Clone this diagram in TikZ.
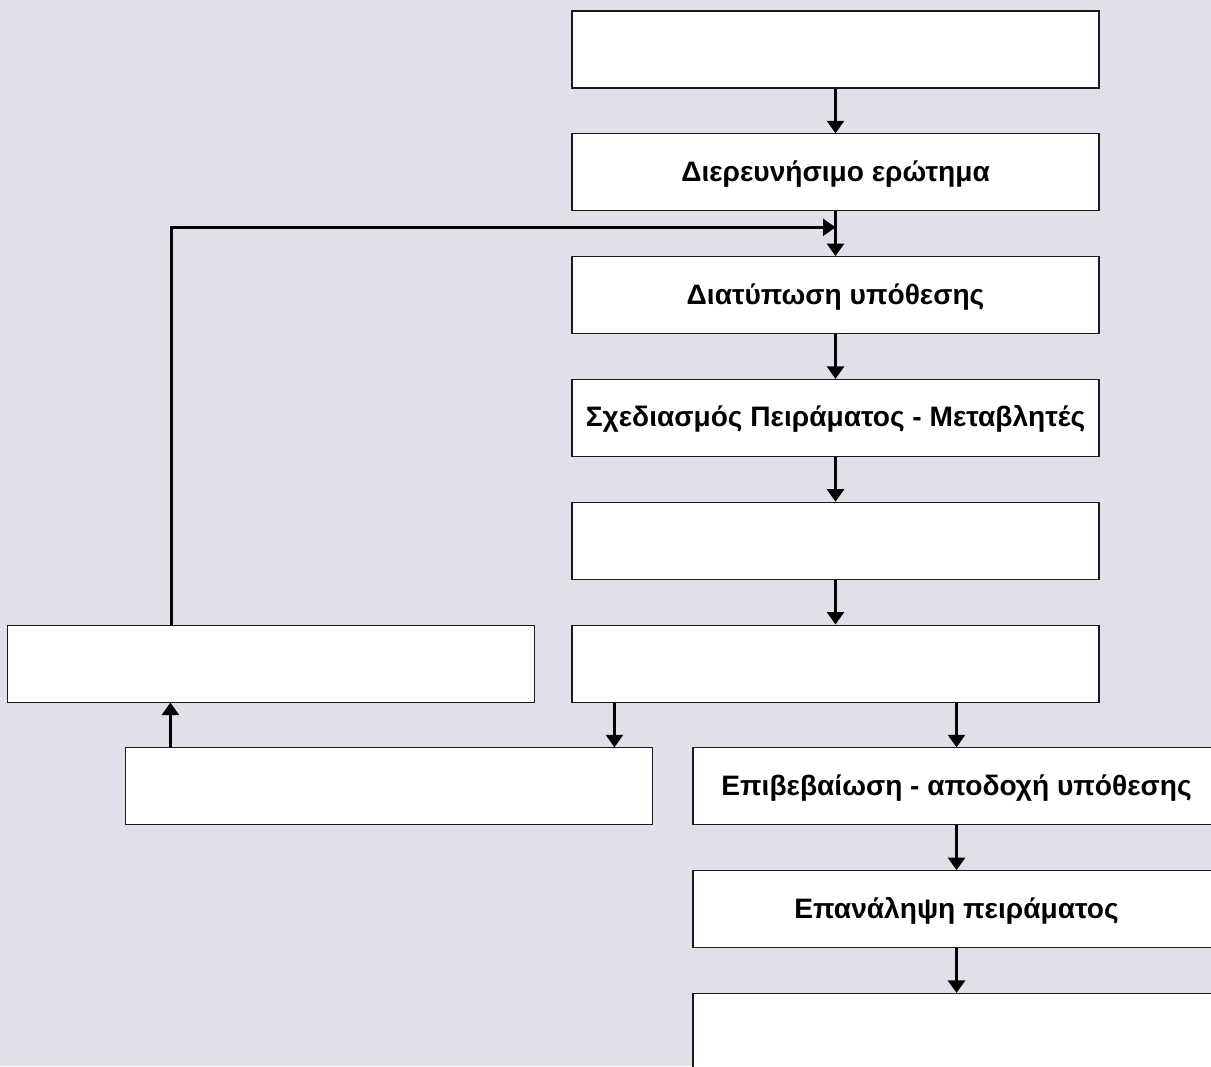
\documentclass[tikz,border=0pt]{standalone}
\usepackage{fontspec}
\setmainfont{Liberation Sans}
\usepackage{xcolor}
\definecolor{chartbg}{HTML}{E1DFEA}
\definecolor{boxline}{HTML}{1A1A1A}
\usepackage{tikz}
\usetikzlibrary{arrows.meta, positioning, calc}

\begin{document}
\begin{tikzpicture}[
  stepbox/.style={rectangle, draw=boxline, fill=white, line width=0.6pt,
    minimum width=10.54cm, minimum height=1.54cm, align=center,
    font=\fontsize{16}{19}\selectfont\bfseries, inner sep=0pt,
    text height=11.5pt, text depth=1.2pt},
  arrow/.style={-{Triangle[width=0.34cm, length=0.25cm]}, line width=1.5pt, black}
]
\useasboundingbox (0,0) rectangle (24.22,-21.32);
\fill[chartbg] (0,0) rectangle (24.22,-21.32);

% main column
\node[stepbox] (observe) at (16.71,-0.99) {};
\node[stepbox, below=0.895cm of observe] (question) {Διερευνήσιμο ερώτημα};
\node[stepbox, below=0.895cm of question] (hypothesis) {Διατύπωση υπόθεσης};
\node[stepbox, below=0.895cm of hypothesis] (design) {Σχεδιασμός Πειράματος - Μεταβλητές};
\node[stepbox, below=0.895cm of design] (run) {};
\node[stepbox, below=0.895cm of run] (result) {};

% left branch
\node[stepbox, left=0.72cm of result] (redo) {};
\node[stepbox, below=0.895cm of result, xshift=2.42cm] (confirm)
  {Επιβεβαίωση - αποδοχή υπόθεσης};
\node[stepbox, left=0.78cm of confirm] (reject) {};

% right branch
\node[stepbox, below=0.895cm of confirm] (repeat) {Επανάληψη πειράματος};
\node[stepbox, below=0.895cm of repeat] (final) {};

\coordinate (join) at ($(question.south)+(0,-0.32)$);

\draw[arrow] (observe) -- (question);
\draw[arrow] (question) -- (hypothesis);
\draw[arrow] (hypothesis) -- (design);
\draw[arrow] (design) -- (run);
\draw[arrow] (run) -- (result);
\draw[arrow] ([xshift=-0.78cm]reject.north east |- result.south)
  -- ([xshift=-0.78cm]reject.north east);
\draw[arrow] (confirm.north |- result.south) -- (confirm.north);
\draw[arrow] (confirm) -- (repeat);
\draw[arrow] (repeat) -- (final);
\draw[arrow] ([xshift=0.9cm]reject.north west)
  -- ([xshift=0.9cm]reject.north west |- redo.south);
\draw[arrow] ([xshift=3.28cm]redo.north west) |- (join);
\end{tikzpicture}
\end{document}
